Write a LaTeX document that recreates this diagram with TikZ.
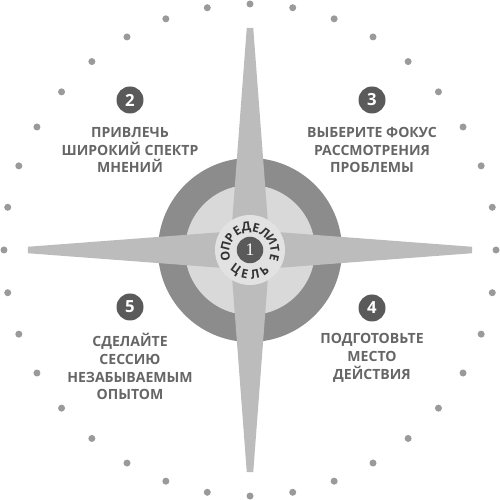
\documentclass[tikz,border=0pt]{standalone}
\usepackage{fontspec}
\setmainfont{Open Sans}
\newfontfamily\numfont{Liberation Serif}

\definecolor{dotgray}{HTML}{9A9A9A}
\definecolor{ringdark}{HTML}{8C8C8C}
\definecolor{ringlight}{HTML}{D9D9D9}
\definecolor{armgray}{HTML}{BCBCBC}
\definecolor{hubgray}{HTML}{E2E2E2}
\definecolor{badgegray}{HTML}{5A5A5A}
\definecolor{labelgray}{HTML}{666666}

\begin{document}
\begin{tikzpicture}
% Frame
\useasboundingbox (-5,-5) rectangle (5,5);

\tikzstyle{badge} = [circle, fill=badgegray, text=white, minimum size=0.54cm, inner sep=0pt, font=\bfseries\fontsize{9.5}{10}\selectfont]
\tikzstyle{steptext} = [align=center, text=labelgray, inner sep=0pt, font=\bfseries\fontsize{8}{10.2}\selectfont]
\tikzstyle{hubletter} = [inner sep=0pt, text=black!80, font=\bfseries\fontsize{7}{7}\selectfont]

% dot ring
\foreach \a in {0,10,...,350}
  \fill[dotgray] (\a:4.92) circle (0.07);

% rings
\fill[ringdark] (0,0) circle (1.84);
\fill[ringlight] (0,0) circle (1.3);

% compass arms
\foreach \a in {0,90,180,270}
  \fill[armgray, rotate=\a] (-0.4,0) -- (-0.065,4.44) -- (0.065,4.44) -- (0.4,0) -- cycle;

% hub
\fill[hubgray] (0,0) circle (0.7);
\node at (0,0) [badge, minimum size=0.53cm, font=\numfont\fontsize{10}{10}\selectfont] (goal) {1};
\foreach \ch [count=\i from 0, evaluate=\i as \ang using 188-22.4*\i] in {О,П,Р,Е,Д,Е,Л,И,Т,Е}
  \node[hubletter, rotate=\ang-90] at ([shift={(0,-0.05)}]\ang:0.5) {\ch};
\foreach \ch [count=\i from 0, evaluate=\i as \ang using 234+23.7*\i] in {Ц,Е,Л,Ь}
  \node[hubletter, rotate=\ang+90] at (\ang:0.5) {\ch};

% steps
\node at (-2.4,3.0) [badge] (s2) {2};
\node at (-2.4,2.0) [steptext] (t2) {ПРИВЛЕЧЬ\\ШИРОКИЙ СПЕКТР\\МНЕНИЙ};

\node at (2.44,3.0) [badge] (s3) {3};
\node at (2.44,2.0) [steptext] (t3) {ВЫБЕРИТЕ ФОКУС\\РАССМОТРЕНИЯ\\ПРОБЛЕМЫ};

\node at (2.44,-1.16) [badge] (s4) {4};
\node at (2.44,-2.16) [steptext] (t4) {ПОДГОТОВЬТЕ\\МЕСТО\\ДЕЙСТВИЯ};

\node at (-2.4,-1.14) [badge] (s5) {5};
\node at (-2.4,-2.33) [steptext] (t5) {СДЕЛАЙТЕ\\СЕССИЮ\\НЕЗАБЫВАЕМЫМ\\ОПЫТОМ};
\end{tikzpicture}
\end{document}
